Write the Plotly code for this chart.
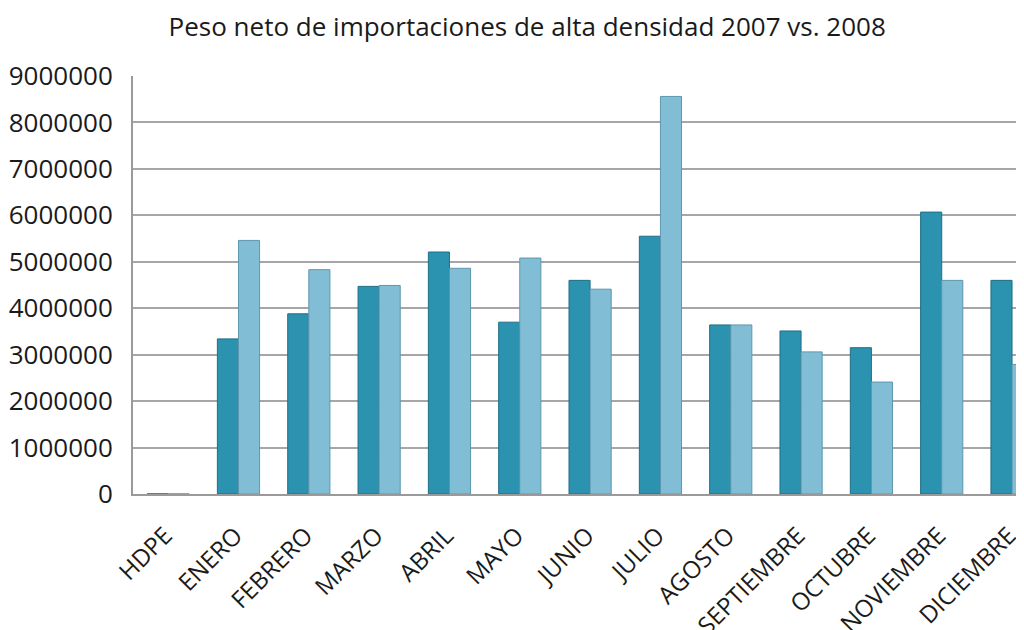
import plotly.graph_objects as go

categories = ["HDPE", "ENERO", "FEBRERO", "MARZO", "ABRIL", "MAYO", "JUNIO",
              "JULIO", "AGOSTO", "SEPTIEMBRE", "OCTUBRE", "NOVIEMBRE", "DICIEMBRE"]
values_2007 = [2007, 3340000, 3880000, 4470000, 5210000, 3700000, 4600000,
               5550000, 3640000, 3510000, 3150000, 6070000, 4600000]
values_2008 = [2008, 5460000, 4830000, 4490000, 4860000, 5080000, 4410000,
               8560000, 3640000, 3060000, 2410000, 4600000, 2790000]
y_ticks = [0, 1000000, 2000000, 3000000, 4000000, 5000000, 6000000, 7000000, 8000000, 9000000]

FONT = "Open Sans"

fig = go.Figure()
fig.add_trace(go.Bar(
    x=categories, y=values_2007, name="2007",
    marker=dict(color="#2b93b0", line=dict(color="#1f6f86", width=1)),
))
fig.add_trace(go.Bar(
    x=categories, y=values_2008, name="2008",
    marker=dict(color="#82bdd6", line=dict(color="#5e97ae", width=1)),
))

fig.update_layout(
    width=1016, height=622,
    paper_bgcolor="white", plot_bgcolor="white",
    showlegend=False,
    barmode="group", bargap=0.4, bargroupgap=0,
    margin=dict(l=125, r=0, t=68, b=136, autoexpand=False),
    title=dict(text="Peso neto de importaciones de alta densidad 2007 vs. 2008",
               x=0.511, xanchor="center", y=0.969, yanchor="middle",
               yref="container", automargin=False,
               font=dict(family=FONT, size=26, color="#1a1a1a")),
    font=dict(family=FONT, color="#1a1a1a"),
)
fig.update_xaxes(
    range=[-0.5, 12.17], automargin=False,
    tickangle=-45, tickfont=dict(size=24, family=FONT, color="#1a1a1a"),
    ticklabelstandoff=16, ticklabelshift=-3,
    showline=True, linecolor="#9a9a9a", linewidth=2,
    showgrid=False, ticks="",
)
fig.update_yaxes(
    range=[0, 9000000], tickvals=y_ticks, ticktext=[str(v) for v in y_ticks],
    automargin=False,
    tickfont=dict(size=26, family=FONT, color="#1a1a1a"),
    showline=True, linecolor="#9a9a9a", linewidth=2,
    showgrid=True, gridcolor="#a6a6a6", gridwidth=1.5,
    ticks="", ticklabelstandoff=13, zeroline=False,
)

fig.write_html("out.html")
